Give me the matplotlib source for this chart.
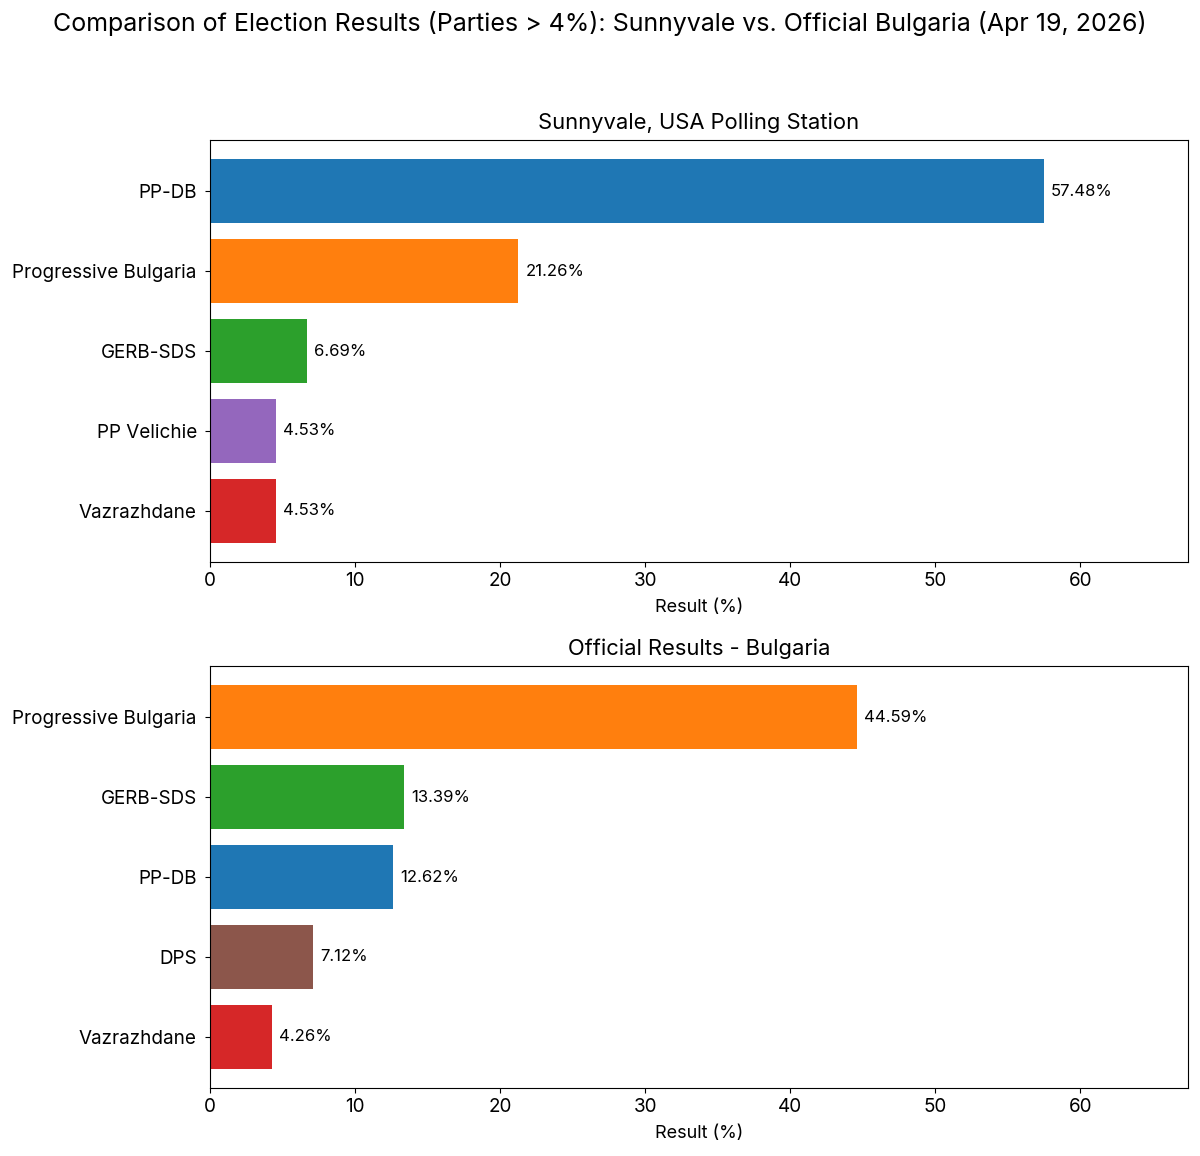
import matplotlib
matplotlib.use("Agg")
import matplotlib.pyplot as plt

plt.rcParams['font.family'] = ['Inter', 'DejaVu Sans']

sv_parties = ["PP-DB", "Progressive Bulgaria", "GERB-SDS", "PP Velichie", "Vazrazhdane"]
sv_values = [57.48, 21.26, 6.69, 4.53, 4.53]
bg_parties = ["Progressive Bulgaria", "GERB-SDS", "PP-DB", "DPS", "Vazrazhdane"]
bg_values = [44.59, 13.39, 12.62, 7.12, 4.26]

party_colors = {
    "PP-DB": "#1f77b4",
    "Progressive Bulgaria": "#ff7f0e",
    "GERB-SDS": "#2ca02c",
    "Vazrazhdane": "#d62728",
    "PP Velichie": "#9467bd",
    "DPS": "#8c564b",
}

fig = plt.figure(figsize=(12, 11.56), dpi=100)
ax1 = fig.add_axes([210/1200, 1 - 562/1156, (1188-210)/1200, (562-140)/1156])
ax2 = fig.add_axes([210/1200, 1 - 1088/1156, (1188-210)/1200, (1088-666)/1156])

xmax = max(sv_values) * 1.173

for ax, parties, values, title in [
    (ax1, sv_parties, sv_values, "Sunnyvale, USA Polling Station"),
    (ax2, bg_parties, bg_values, "Official Results - Bulgaria"),
]:
    bars = ax.barh(parties, values, height=0.8, color=[party_colors[p] for p in parties])
    ax.invert_yaxis()
    ax.set_xlim(0, xmax)
    for b, v in zip(bars, values):
        ax.text(b.get_width() + 0.5, b.get_y() + b.get_height() / 2, f"{v:.2f}%",
                va="center", ha="left", fontsize=12)
    ax.set_title(title, fontsize=15.8, pad=8)
    ax.set_xlabel("Result (%)", fontsize=13, labelpad=7)
    ax.tick_params(axis="both", labelsize=13.6)
    ax.tick_params(axis="y", pad=6)

fig.suptitle("Comparison of Election Results (Parties > 4%): Sunnyvale vs. Official Bulgaria (Apr 19, 2026)",
             fontsize=18, y=1 - 23/1156, va="center")

fig.savefig("out.png", dpi=100)
